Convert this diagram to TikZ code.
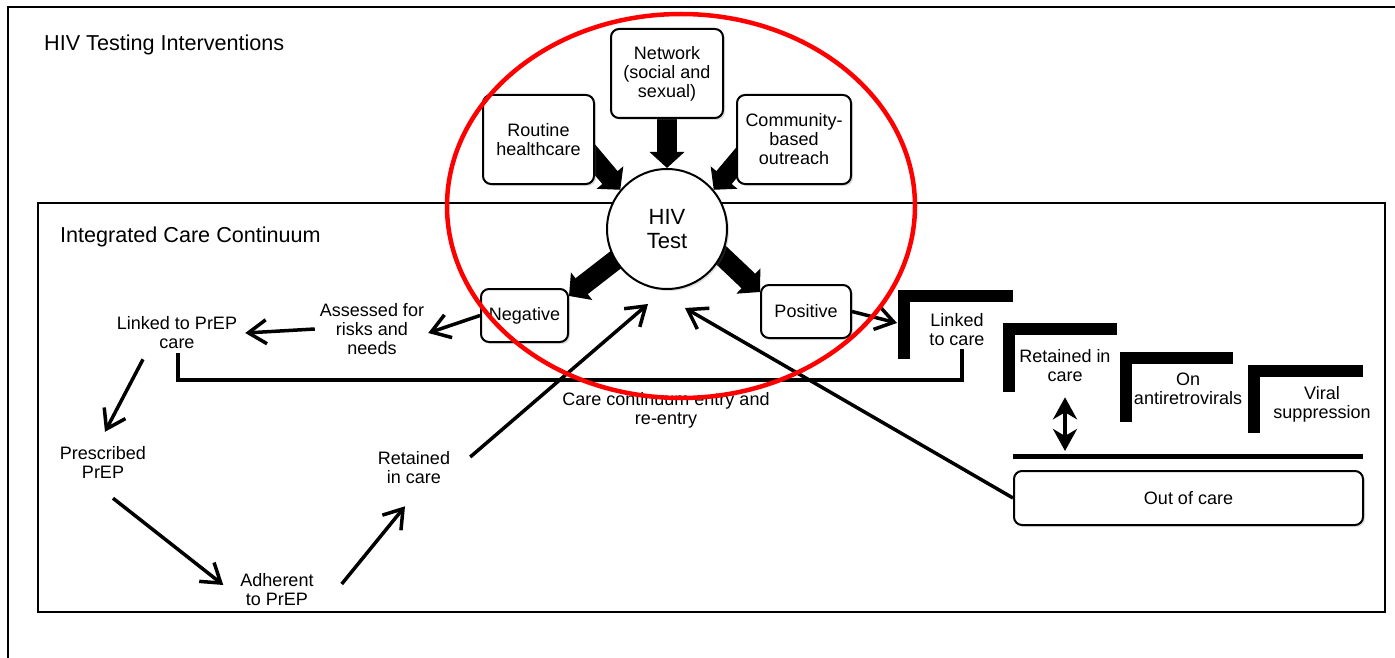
\documentclass[tikz,border=0pt]{standalone}
\usepackage{fontspec}
\setmainfont{Liberation Sans}
\usetikzlibrary{arrows.meta,calc,backgrounds,shadows}

\tikzset{
  txt/.style={align=center,inner sep=0pt,font=\fontsize{18}{19}\selectfont},
  box/.style={draw,line width=2pt,rounded corners=8pt,fill=white,align=center,inner sep=2pt,
    font=\fontsize{18}{19}\selectfont,drop shadow={shadow xshift=2pt,shadow yshift=-2pt,opacity=0.25}},
  fatarrow/.style={line width=20pt,-{Triangle[width=34pt,length=16pt]}},
  thinarrow/.style={line width=3.5pt,-{Straight Barb[length=18pt,width=24pt]}},
  stepbar/.style={line width=12pt,line join=miter},
}

\begin{document}
\begin{tikzpicture}[x=1pt,y=-1pt,line cap=butt]
  \useasboundingbox (0,0) rectangle (1395,658);
  \clip (0,0) rectangle (1395,658);

  % headings
  \node[anchor=base west,inner sep=0pt,font=\fontsize{21.6}{24}\selectfont] (tti) at (44,51) {HIV Testing Interventions};
  \node[anchor=base west,inner sep=0pt,font=\fontsize{21.6}{24}\selectfont] (icc) at (60,242) {Integrated Care Continuum};

  % testing interventions
  \node[box,minimum width=112pt,minimum height=89pt] (network) at (667,73.5) {Network\\(social and\\sexual)};
  \node[box,minimum width=111pt,minimum height=89pt] (routine) at (538.5,139.5) {Routine\\healthcare};
  \node[box,minimum width=114pt,minimum height=89pt] (community) at (794,139.5) {Community-\\based\\outreach};
  \node[circle,draw,line width=2pt,fill=white,minimum size=120pt,inner sep=0pt,align=center,
    font=\fontsize{22}{24}\selectfont,drop shadow={shadow xshift=2pt,shadow yshift=-2pt,opacity=0.25}] (test) at (667,229) {HIV\\Test};
  \node[box,minimum width=87pt,minimum height=53pt] (neg) at (524.5,315.5) {Negative};
  \node[box,minimum width=90pt,minimum height=53pt] (pos) at (806,311.5) {Positive};

  % prevention side
  \node[txt] (assess) at (372,329) {Assessed for\\risks and\\needs};
  \node[txt] (linkprep) at (177,333) {Linked to PrEP\\care};
  \node[txt] (prescr) at (103,462) {Prescribed\\PrEP};
  \node[txt] (adher) at (277,590) {Adherent\\to PrEP};
  \node[txt] (retl) at (414,468) {Retained\\in care};
  \node[txt] (entry) at (666,410) {Care continuum entry and\\re-entry};

  % care side
  \node[txt] (linkcare) at (957,330) {Linked\\to care};
  \node[txt] (retcare) at (1065,366) {Retained in\\care};
  \node[txt] (onart) at (1188,389) {On\\antiretrovirals};
  \node[txt] (viral) at (1322,404) {Viral\\suppression};
  \node[box,minimum width=349pt,minimum height=54pt] (ooc) at (1188.5,498) {Out of care};

  \coordinate (entry in) at (648,304);
  \coordinate (reentry in) at (685,308);
  \coordinate (l1 in) at (897,323);
  \coordinate (bar) at (1065,456);

  \begin{pgfonlayer}{background}
    \draw[line width=2pt] (8,7) rectangle (1420,700);
    \draw[line width=2pt] (38,203) rectangle (1385,612);
    \draw[fatarrow] (network.south) -- (test.north);
    \draw[fatarrow] ($(routine.east)+(-18,-1)$) -- (test.140);
    \draw[fatarrow] ($(community.west)+(20,0)$) -- (test.40);
    \draw[fatarrow] ($(test.center)+(-9,-2)$) -- ($(neg.north east)+(0,8)$);
    \draw[fatarrow] ($(test.center)+(18,-8)$) -- ($(pos.north west)+(0,8)$);
  \end{pgfonlayer}

  % steps of the care continuum
  \draw[stepbar] (904,359) -- (904,296) -- (1013,296);
  \draw[stepbar] (1009,392) -- (1009,329) -- (1117,329);
  \draw[stepbar] (1126,422) -- (1126,358) -- (1233,358);
  \draw[stepbar] (1254,433) -- (1254,371) -- (1363,371);
  \draw[line width=5pt] (1013,456) -- (1363,456);

  \draw[thinarrow] (neg.west) -- ($(assess.east)+(4,4)$);
  \draw[thinarrow] ($(assess.west)+(-5,0)$) -- ($(linkprep.east)+(8,0)$);
  \draw[thinarrow] ($(linkprep.south)+(-34,10)$) -- ($(prescr.north)+(2,-14)$);
  \draw[thinarrow] ($(prescr.south)+(10,20)$) -- ($(adher.west)+(-17,-5)$);
  \draw[thinarrow] ($(adher.east)+(28,-6)$) -- ($(retl.south)+(-9,22)$);
  \draw[thinarrow] ($(retl.east)+(20,-11)$) -- (entry in);
  \draw[thinarrow] (ooc.west) -- (reentry in);
  \draw[thinarrow] (pos.east) -- (l1 in);
  \draw[line width=4pt] ($(linkprep.south)+(1,4)$) -- ++(0,27) -| ($(linkcare.south)+(5,3)$);
  \draw[line width=4pt,{Stealth[length=22pt,width=24pt,inset=7pt]}-{Stealth[length=22pt,width=24pt,inset=7pt]}]
    ($(retcare.south)+(0,15)$) -- ($(bar)+(0,-5)$);

  % highlight
  \draw[red,line width=4.5pt] (681,206) ellipse [x radius=234, y radius=192];
\end{tikzpicture}
\end{document}
